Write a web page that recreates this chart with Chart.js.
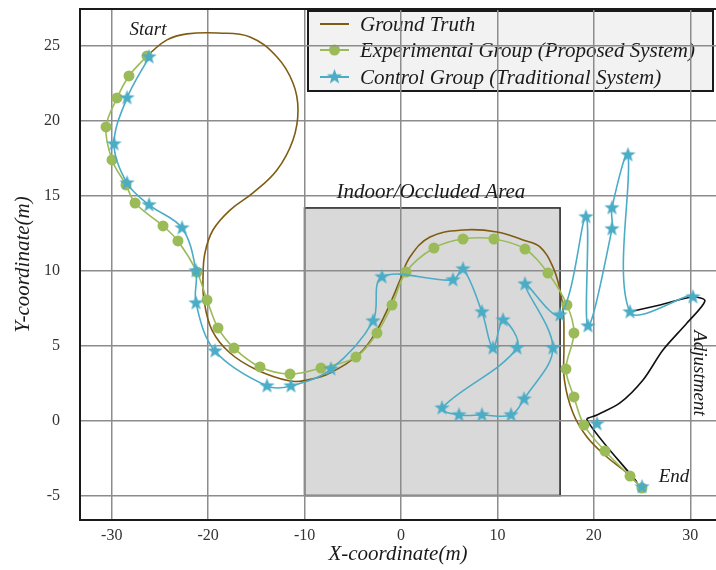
<!DOCTYPE html>
<html>
<head>
<meta charset="utf-8">
<script src="https://cdn.jsdelivr.net/npm/chart.js@4/dist/chart.umd.min.js"></script>
<style>
html,body{margin:0;padding:0;background:#fff;}
#c{display:block;}
</style>
</head>
<body>
<canvas id="c" width="716" height="570"></canvas>
<script>
// ---------------- data ----------------
const xTicks = [-30, -20, -10, 0, 10, 20, 30];
const yTicks = [-5, 0, 5, 10, 15, 20, 25];
const seriesNames = ['Ground Truth', 'Experimental Group (Proposed System)', 'Control Group (Traditional System)'];

const truthX = [-26.24,-24.27,-22.19,-18.98,-15.66,-12.86,-11.20,-10.68,-11.20,-12.86,-15.35,-17.73,-19.50,-20.33,-20.53,-20.43,-19.6,-17.73,-14.93,-11.51,-9.75,-7.36,-4.25,-2.49,-0.83,-0.10,0.93,3.01,6.43,9.96,12.65,14.41,15.76,16.49,16.85,16.9,16.95,17.84,19.29,21.36,23.44,24.58];
const truthY = [24.37,25.37,25.77,25.83,25.57,24.23,22.5,20.7,18.7,16.7,15.17,14.03,12.7,11.17,9.57,8.03,6.03,4.5,3.37,2.63,2.7,3.17,4.5,6.03,8.23,9.37,10.9,12.23,12.7,12.57,12.03,11.57,10.23,8.7,7.17,4.9,2.7,0.5,-1.1,-2.43,-3.5,-4.23];

const expX = [-26.34,-28.21,-29.45,-30.59,-29.97,-28.52,-27.58,-24.68,-23.13,-21.16,-20.12,-18.98,-17.32,-14.62,-11.51,-8.30,-4.67,-2.49,-0.93,0.52,3.42,6.43,9.64,12.86,15.24,17.21,17.94,17.11,17.94,18.98,21.16,23.75,24.99];
const expY = [24.3,22.97,21.5,19.57,17.37,15.7,14.5,12.97,11.97,9.9,8.03,6.17,4.83,3.57,3.1,3.5,4.23,5.83,7.7,9.9,11.5,12.1,12.1,11.43,9.83,7.7,5.83,3.43,1.57,-0.3,-2.03,-3.7,-4.5];

const ctrlX = [-26.13,-28.41,-29.76,-28.41,-26.13,-22.71,-21.26,-21.26,-19.29,-13.90,-11.41,-7.26,-2.90,-1.97,5.39,6.43,8.40,9.54,10.58,12.03,4.25,6.01,8.40,11.41,12.76,15.76,12.86,16.49,19.18,19.39,21.88,21.88,23.54,23.75,30.28,20.33,25.0];
const ctrlY = [24.23,21.5,18.43,15.83,14.37,12.83,9.97,7.83,4.63,2.3,2.3,3.43,6.63,9.57,9.37,10.1,7.23,4.83,6.7,4.83,0.83,0.37,0.37,0.37,1.43,4.83,9.1,7.03,13.57,6.3,12.77,14.17,17.7,7.23,8.23,-0.23,-4.43];
const ctrlUnlinkedTail = 3; // last control fixes shown without the blue link

const adjX = [23.64,26.86,30.28,31.52,29.66,27.17,25.1,22.71,20.33,19.29,24.47];
const adjY = [7.23,7.7,8.23,7.97,6.5,4.7,2.7,1.17,0.37,0.03,-4.1];

const occludedArea = {x0: -10, x1: 16.5, y0: -5, y1: 14.17};
const notes = [
  {text: 'Start', x: -26.24, y: 26.03, rot: 0, size: 19},
  {text: 'Indoor/Occluded Area', x: 3.11, y: 15.23, rot: 0, size: 21},
  {text: 'End', x: 28.31, y: -3.77, rot: 0, size: 19},
  {text: 'Adjustment', x: 30.9, y: 3.17, rot: Math.PI / 2, size: 19}
];

// ---------------- style ----------------
const BROWN = '#7f5c10', GREEN = '#9bbb59', BLUE = '#4bacc6', INK = '#1a1a1a';
const SERIF = '"Liberation Serif", "Times New Roman", serif';

const pts = (xs, ys) => xs.map((x, i) => ({x, y: ys[i]}));

const starImg = (() => {
  const c = document.createElement('canvas');
  c.width = 17; c.height = 17;
  const g = c.getContext('2d');
  g.fillStyle = BLUE;
  g.beginPath();
  for (let i = 0; i < 10; i++) {
    const r = i % 2 === 0 ? 8 : 3.3;
    const a = -Math.PI / 2 + i * Math.PI / 5;
    g.lineTo(8.5 + r * Math.cos(a), 8.5 + r * Math.sin(a));
  }
  g.closePath();
  g.fill();
  return c;
})();

const underlay = {
  id: 'underlay',
  beforeDraw(chart) {
    const {ctx, chartArea: a, scales: {x, y}} = chart;
    ctx.save();
    ctx.fillStyle = '#fff';
    ctx.fillRect(0, 0, chart.width, chart.height);
    // occluded area
    const l = x.getPixelForValue(occludedArea.x0), r = x.getPixelForValue(occludedArea.x1);
    const t = y.getPixelForValue(occludedArea.y1), b = y.getPixelForValue(occludedArea.y0);
    ctx.fillStyle = '#d9d9d9';
    ctx.fillRect(l, t, r - l, b - t);
    ctx.strokeStyle = '#2a2a2a';
    ctx.lineWidth = 1.6;
    ctx.strokeRect(l, t, r - l, b - t);
    // legend box
    const bx = a.right - 408, by = a.top + 2, bw = 405, bh = 80;
    ctx.fillStyle = '#f2f2f2';
    ctx.fillRect(bx, by, bw, bh);
    ctx.strokeStyle = INK;
    ctx.lineWidth = 2;
    ctx.strokeRect(bx, by, bw, bh);
    const rows = [by + 13, by + 39, by + 66];
    const sx0 = bx + 12, sx1 = bx + 41, sc = (sx0 + sx1) / 2;
    const cols = [BROWN, GREEN, BLUE];
    ctx.font = 'italic 21px ' + SERIF;
    ctx.textBaseline = 'middle';
    ctx.textAlign = 'left';
    rows.forEach((ry, i) => {
      ctx.strokeStyle = cols[i];
      ctx.lineWidth = 2;
      ctx.beginPath(); ctx.moveTo(sx0, ry); ctx.lineTo(sx1, ry); ctx.stroke();
      if (i === 1) {
        ctx.fillStyle = GREEN;
        ctx.beginPath(); ctx.arc(sc, ry, 5.5, 0, Math.PI * 2); ctx.fill();
      } else if (i === 2) {
        ctx.drawImage(starImg, sc - 8.5, ry - 8.5);
      }
      ctx.fillStyle = INK;
      ctx.fillText(seriesNames[i], bx + 52, ry + 1);
    });
    ctx.restore();
  },
  afterDraw(chart) {
    const {ctx, chartArea: a, scales: {x, y}} = chart;
    ctx.save();
    ctx.strokeStyle = INK;
    ctx.lineWidth = 2;
    ctx.beginPath(); ctx.moveTo(a.left, a.top); ctx.lineTo(a.right, a.top); ctx.stroke();
    ctx.fillStyle = INK;
    ctx.textAlign = 'center';
    ctx.textBaseline = 'middle';
    notes.forEach(n => {
      ctx.save();
      ctx.translate(x.getPixelForValue(n.x), y.getPixelForValue(n.y));
      ctx.rotate(n.rot);
      ctx.font = 'italic ' + n.size + 'px ' + SERIF;
      ctx.fillText(n.text, 0, 0);
      ctx.restore();
    });
    ctx.restore();
  }
};

const tickFont = {family: SERIF, size: 16};
const titleFont = {family: SERIF, size: 21, style: 'italic'};

new Chart(document.getElementById('c'), {
  type: 'scatter',
  data: {
    datasets: [
      {
        label: seriesNames[2], data: pts(ctrlX, ctrlY), showLine: true,
        borderColor: BLUE, borderWidth: 1.6, pointStyle: starImg, tension: 0.35, order: 0,
        segment: {borderColor: c => c.p0DataIndex >= ctrlX.length - ctrlUnlinkedTail ? 'rgba(0,0,0,0)' : BLUE}
      },
      {
        label: seriesNames[1], data: pts(expX, expY), showLine: true,
        borderColor: GREEN, backgroundColor: GREEN, borderWidth: 1.6,
        pointRadius: 5.5, pointBorderWidth: 0, pointBackgroundColor: GREEN, tension: 0.35, order: 1
      },
      {
        label: seriesNames[0], data: pts(truthX, truthY), showLine: true,
        borderColor: BROWN, borderWidth: 1.6, pointRadius: 0, tension: 0.4, order: 2
      },
      {
        label: 'Adjustment', data: pts(adjX, adjY), showLine: true,
        borderColor: '#111', borderWidth: 1.6, pointRadius: 0, tension: 0.3, order: 3
      }
    ]
  },
  options: {
    responsive: false, animation: false, devicePixelRatio: 1,
    layout: {autoPadding: false, padding: {top: 9, right: 0, left: 0, bottom: 0}},
    plugins: {legend: {display: false}, tooltip: {enabled: false}},
    scales: {
      x: {
        type: 'linear', min: -33.29, max: 32.67,
        afterBuildTicks: s => { s.ticks = xTicks.map(v => ({value: v})); },
        afterFit: s => { s.height = 50; s.paddingLeft = 0; s.paddingRight = 0; },
        grid: {color: '#8c8c8c', lineWidth: 1.5, drawTicks: false},
        border: {color: INK, width: 2},
        ticks: {font: tickFont, color: '#333', padding: 6, maxRotation: 0},
        title: {display: true, text: 'X-coordinate(m)', font: titleFont, color: INK, padding: {top: 0, bottom: 3}}
      },
      y: {
        type: 'linear', min: -6.63, max: 27.43,
        afterBuildTicks: s => { s.ticks = yTicks.map(v => ({value: v})); },
        afterFit: s => { s.width = 80; s.paddingTop = 0; s.paddingBottom = 0; },
        grid: {color: '#8c8c8c', lineWidth: 1.5, drawTicks: false},
        border: {color: INK, width: 2},
        ticks: {font: tickFont, color: '#333', padding: 20},
        title: {display: true, text: 'Y-coordinate(m)', font: titleFont, color: INK, padding: {top: 11, bottom: 0}}
      }
    }
  },
  plugins: [underlay]
});
</script>
</body>
</html>
